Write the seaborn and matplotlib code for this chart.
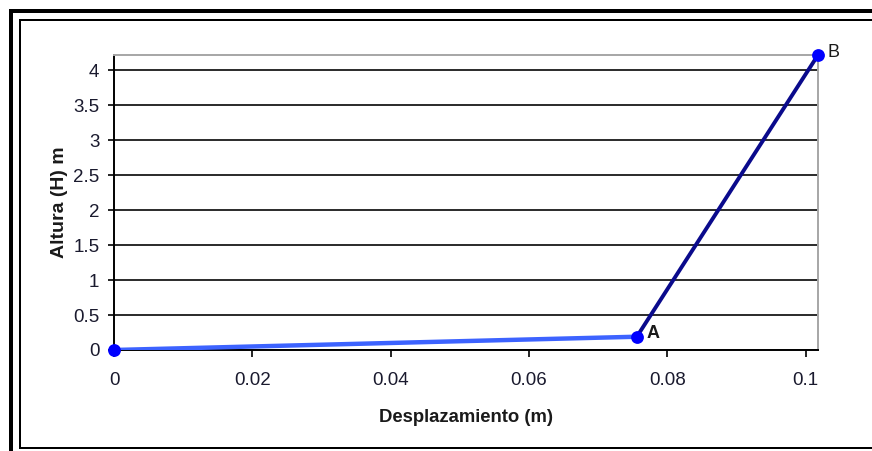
import matplotlib
matplotlib.use("Agg")
import matplotlib.pyplot as plt
from matplotlib.patches import Rectangle
import seaborn as sns
import pandas as pd

# Measured points of the profile: origin, A and B
desplazamiento = [0.0, 0.0756, 0.1018]
altura = [0.0, 0.19, 4.22]
etiquetas = ["", "A", "B"]

x_ticks = [0, 0.02, 0.04, 0.06, 0.08, 0.1]
x_tick_labels = ["0", "0.02", "0.04", "0.06", "0.08", "0.1"]
y_ticks = [0, 0.5, 1, 1.5, 2, 2.5, 3, 3.5, 4]
y_tick_labels = ["0", "0.5", "1", "1.5", "2", "2.5", "3", "3.5", "4"]

df = pd.DataFrame({"x": desplazamiento, "h": altura, "lab": etiquetas})

sns.set_theme(style="white")
plt.rcParams["font.family"] = ["Liberation Sans", "DejaVu Sans"]

W, H = 872, 451
fig = plt.figure(figsize=(W / 100, H / 100), dpi=100)
fig.patch.set_facecolor("white")


def px_rect(x0, y0, x1, y1, color="black"):
    """Rectangle given in pixel coordinates measured from the top-left corner."""
    fig.add_artist(Rectangle((x0 / W, 1 - y1 / H), (x1 - x0) / W, (y1 - y0) / H,
                             transform=fig.transFigure, facecolor=color,
                             edgecolor="none", zorder=0))


# Double frame around the chart
px_rect(9, 9, 13, H)        # outer left, thick
px_rect(9, 9, W, 13)        # outer top, thick
px_rect(19, 19, 21, 449)    # inner left
px_rect(19, 19, W, 21)      # inner top
px_rect(19, 447, W, 449)    # inner bottom

# Plot area
left, right, top, bottom = 114, 818, 55, 350
ax = fig.add_axes([left / W, 1 - bottom / H, (right - left) / W, (bottom - top) / H])
ax.set_facecolor("white")

seg1 = df.iloc[0:2]
seg2 = df.iloc[1:3]
sns.lineplot(data=seg1, x="x", y="h", sort=False, ax=ax, color="#3d63ff",
             linewidth=3.2, zorder=3)
sns.lineplot(data=seg2, x="x", y="h", sort=False, ax=ax, color="#0a0a8c",
             linewidth=2.8, zorder=3)
sns.scatterplot(data=df, x="x", y="h", ax=ax, color="#0000ff", s=85,
                edgecolor="#0000ff", linewidth=0, zorder=5, clip_on=False)

for xv, yv, lab in zip(desplazamiento, altura, etiquetas):
    if lab:
        ax.annotate(lab, (xv, yv), xytext=(7, 2), textcoords="offset points",
                    ha="left", va="center", fontsize=13,
                    fontweight="bold" if lab == "A" else "normal",
                    color="#1a1a1a", annotation_clip=False)

ax.set_xlim(0, desplazamiento[-1])
ax.set_ylim(0, altura[-1])
ax.set_xticks(x_ticks)
ax.set_xticklabels(x_tick_labels)
ax.set_yticks(y_ticks)
ax.set_yticklabels(y_tick_labels)

ax.yaxis.grid(True, color="#2a2a2a", linewidth=1.4)
ax.xaxis.grid(False)
ax.set_axisbelow(True)

for side in ("left", "bottom"):
    ax.spines[side].set_color("black")
    ax.spines[side].set_linewidth(1.4)
for side in ("top", "right"):
    ax.spines[side].set_color("#a6a6a6")
    ax.spines[side].set_linewidth(1.4)

ax.tick_params(axis="y", which="major", direction="out", length=4.5, width=1.2,
               color="black", pad=6, labelsize=13.5, labelcolor="#1a1a2e", left=True)
ax.tick_params(axis="x", which="major", direction="out", length=5, width=1.2,
               color="black", pad=11, labelsize=13.5, labelcolor="#1a1a2e", bottom=True)

ax.set_xlabel("Desplazamiento (m)", fontsize=13.3, fontweight="bold", color="#1a1a1a",
              labelpad=14)
ax.set_ylabel("Altura (H) m", fontsize=14, fontweight="bold", color="#1a1a1a",
              labelpad=4)

fig.savefig("out.png", dpi=100, facecolor="white")
